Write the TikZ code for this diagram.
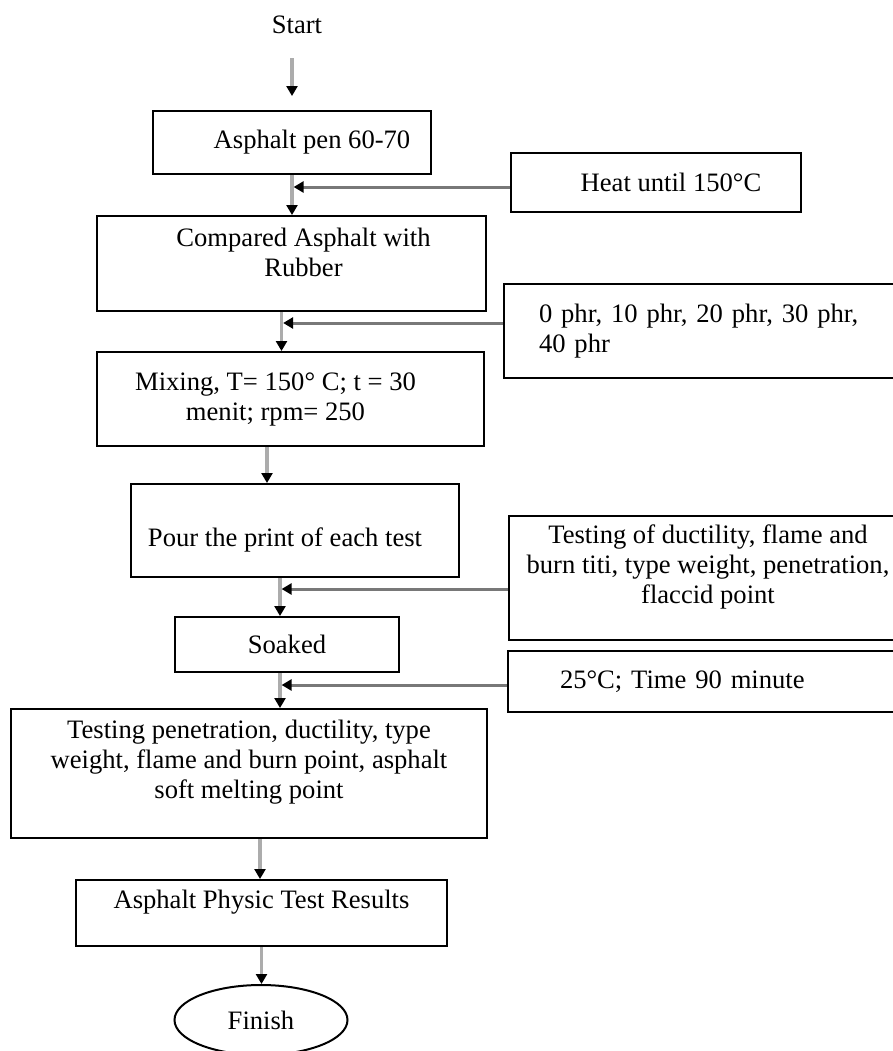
\documentclass[tikz,border=0pt]{standalone}
\usepackage{fontspec}
\setmainfont{Liberation Serif}
\usetikzlibrary{arrows.meta,shapes.geometric}

\definecolor{flowgray}{RGB}{172,172,172}
\definecolor{feedgray}{RGB}{120,120,120}

\tikzset{
  procbox/.style = {
    rectangle,                    % plain process box
    draw          = black,        % border
    line width    = 1pt,          % border width
    inner sep     = 2pt,          % sep b/w border and inner text
    font          = \fontsize{13.3}{15}\selectfont,%
    text          = black,        % inner label color
    fill          = white,
    align         = center,
  },
  flow/.style = {
    draw          = flowgray,     % main line down the chart
    line width    = 1.75pt,
    -{Triangle[color=black, length=5pt, width=5.5pt]},
  },
  feed/.style = {
    draw          = feedgray,     % side input into the main line
    line width    = 1.5pt,
    shorten >     = 0.8pt,
    -{Triangle[color=black, length=5pt, width=5.5pt]},
  },
}

\begin{document}
\begin{tikzpicture}[x=0.5pt, y=-0.5pt]
\useasboundingbox (0,0) rectangle (893,1051);

% main column
\node at (297, 25) [
  font      = \fontsize{13.3}{15}\selectfont,
  inner sep = 2pt,
  ]
  (start) {Start};

\node at (292, 142.5) [procbox,
  minimum width  = 139pt,
  minimum height = 31.5pt,
  ]
  (asphalt) {\hspace*{20pt}Asphalt pen 60-70};

\node at (291.5, 263.5) [procbox,
  minimum width  = 194.5pt,
  minimum height = 47.5pt,
  text depth     = 11pt,
  ]
  (compare) {\hspace*{12pt}Compared Asphalt with\\\hspace*{12pt}Rubber};

\node at (290.5, 399) [procbox,
  minimum width  = 193.5pt,
  minimum height = 47pt,
  ]
  (mixing) {Mixing, T= 150° C; t = 30\hspace*{15pt}\\menit; rpm= 250\hspace*{15pt}};

\node at (295, 530.5) [procbox,
  minimum width  = 164pt,
  minimum height = 46.5pt,
  text height    = 19pt,
  ]
  (pour) {Pour the print of each test\hspace*{10pt}};

\node at (287, 644.5) [procbox,
  minimum width  = 112pt,
  minimum height = 27.5pt,
  ]
  (soaked) {Soaked};

\node at (249, 773.5) [procbox,
  minimum width  = 238pt,
  minimum height = 64.5pt,
  text depth     = 14pt,
  ]
  (testing) {Testing penetration, ductility, type\\weight, flame and burn point, asphalt\\soft melting point};

\node at (261.5, 913) [procbox,
  minimum width  = 185.5pt,
  minimum height = 33pt,
  text depth     = 14pt,
  ]
  (results) {Asphalt Physic Test Results};

\node at (261, 1020) [procbox,
  ellipse,
  minimum width  = 86.5pt,
  minimum height = 35pt,
  ]
  (finish) {Finish};

% side inputs
\node at (656, 182.5) [procbox,
  minimum width  = 145pt,
  minimum height = 29.5pt,
  ]
  (heat) {\hspace*{15pt}Heat until 150°C};

\node at (724, 331) [procbox,
  align          = left,
  text width     = 185pt,
  inner xsep     = 17.5pt,
  minimum height = 47pt,
  ]
  (phr) {0 phr, 10 phr, 20 phr, 30 phr,\\40 phr};

\node at (708, 578) [procbox,
  minimum width  = 199pt,
  minimum height = 62pt,
  text depth     = 14pt,
  ]
  (props) {Testing of ductility, flame and\\burn titi, type weight, penetration,\\flaccid point};

\node at (729, 681.5) [procbox,
  align          = left,
  text width     = 169pt,
  inner xsep     = 26pt,
  minimum height = 30.5pt,
  ]
  (soaktime) {25°C; Time 90 minute};

% main flow
\draw[flow, shorten <=10pt, shorten >=7pt] (start.south -| asphalt.north) -- (asphalt.north);
\draw[flow] (asphalt.south) -- (asphalt.south |- compare.north);
\coordinate (f2) at ([xshift=-5pt]compare.south);
\draw[flow] (f2) -- (f2 |- mixing.north);
\coordinate (f3) at ([xshift=-11.75pt]mixing.south);
\draw[flow] (f3) -- (f3 |- pour.north);
\coordinate (f4) at ([xshift=-7.5pt]pour.south);
\draw[flow] (f4) -- (f4 |- soaked.north);
\coordinate (f5) at ([xshift=-3.5pt]soaked.south);
\draw[flow] (f5) -- (f5 |- testing.north);
\coordinate (f6) at ([xshift=5.5pt]testing.south);
\draw[flow] (f6) -- (f6 |- results.north);
\draw[flow] (results.south) -- (results.south |- finish.north);

% inputs
\coordinate (i1) at ([yshift=-2.25pt]heat.west);
\draw[feed] (i1) -- (i1 -| asphalt.south);
\coordinate (i2) at ([yshift=4pt]phr.west);
\draw[feed] (i2) -- (i2 -| f2);
\coordinate (i3) at ([yshift=-5.5pt]props.west);
\draw[feed] (i3) -- (i3 -| f4);
\coordinate (i4) at ([yshift=-1.75pt]soaktime.west);
\draw[feed] (i4) -- (i4 -| f5);
\end{tikzpicture}
\end{document}
